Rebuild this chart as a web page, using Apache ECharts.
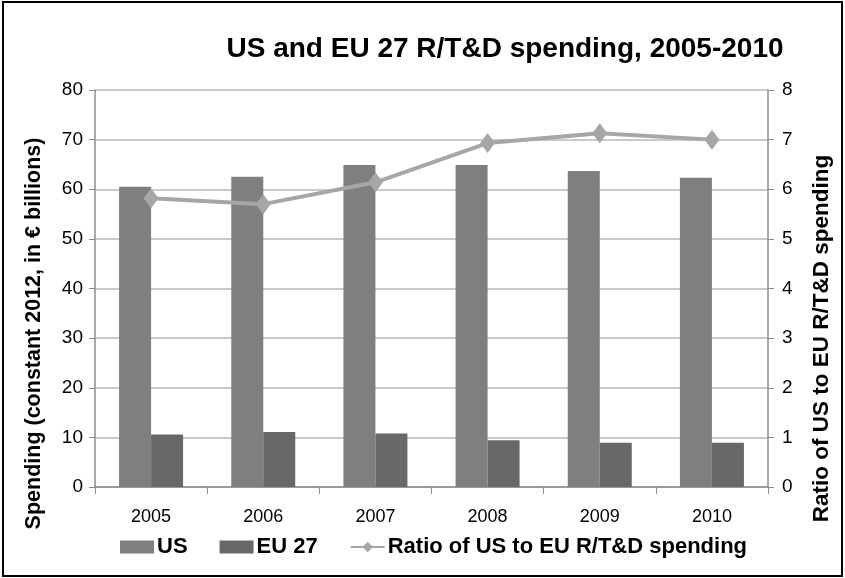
<!DOCTYPE html>
<html><head><meta charset="utf-8">
<script src="https://cdn.jsdelivr.net/npm/echarts@6/dist/echarts.min.js"></script>
<style>html,body{margin:0;padding:0;background:#fff}#c{width:845px;height:578px}</style>
</head><body><div id="c"></div>
<script>
const years = ['2005','2006','2007','2008','2009','2010'];
const usSpending = [60.5, 62.5, 64.9, 64.9, 63.7, 62.3];
const eu27Spending = [10.6, 11.1, 10.8, 9.4, 8.9, 8.9];
const ratioUsEu = [5.82, 5.70, 6.14, 6.93, 7.13, 7.00];
const leftTicks = {min: 0, max: 80, interval: 10};
const rightTicks = {min: 0, max: 8, interval: 1};

const FONT = "'Liberation Sans', Arial, sans-serif";
const chart = echarts.init(document.getElementById('c'), null, {renderer: 'canvas'});
chart.setOption({
  animation: false,
  backgroundColor: '#fff',
  textStyle: {fontFamily: FONT},
  title: {
    text: 'US and EU 27 R/T&D spending, 2005-2010',
    left: 500, top: 30, textAlign: 'center',
    textStyle: {fontFamily: FONT, fontWeight: 'bold', fontSize: 28, color: '#000'}
  },
  graphic: [{
    type: 'rect', shape: {x: 3, y: 2, width: 839, height: 574},
    style: {fill: 'none', stroke: '#000', lineWidth: 2}, silent: true, z: -1
  }],
  legend: {
    left: 115, top: 531, itemGap: 32,
    itemWidth: 34, itemHeight: 13,
    textStyle: {fontFamily: FONT, fontWeight: 'bold', fontSize: 22, color: '#000', padding: [0,0,0,-2]},
    data: [
      {name: 'US', icon: 'rect'},
      {name: 'EU 27', icon: 'rect'},
      {name: 'Ratio of US to EU R/T&D spending'}
    ]
  },
  grid: {left: 95, right: 77, top: 90, bottom: 91, containLabel: false},
  xAxis: {
    type: 'category', data: years,
    axisLine: {lineStyle: {color: '#8c8c8c', width: 1.5}},
    axisTick: {show: true, length: 7, alignWithLabel: false, lineStyle: {color: '#8c8c8c'}},
    axisLabel: {fontFamily: FONT, fontSize: 18, color: '#000', margin: 21}
  },
  yAxis: [{
    type: 'value', min: leftTicks.min, max: leftTicks.max, interval: leftTicks.interval,
    name: 'Spending (constant 2012, in € billions)',
    nameLocation: 'middle', nameGap: 50, nameRotate: 90,
    nameTextStyle: {fontFamily: FONT, fontWeight: 'bold', fontSize: 21.5, color: '#000', padding: [0, 90, 0, 0]},
    axisLine: {show: true, lineStyle: {color: '#8c8c8c', width: 1.5}},
    axisTick: {show: true, length: 6, lineStyle: {color: '#8c8c8c'}},
    axisLabel: {fontFamily: FONT, fontSize: 19, color: '#000', margin: 12},
    splitLine: {lineStyle: {color: '#b8b8b8', width: 1.5}}
  }, {
    type: 'value', min: rightTicks.min, max: rightTicks.max, interval: rightTicks.interval,
    position: 'right',
    name: 'Ratio of US to EU R/T&D spending',
    nameLocation: 'middle', nameGap: 42, nameRotate: 90,
    nameTextStyle: {fontFamily: FONT, fontWeight: 'bold', fontSize: 22.5, color: '#000', padding: [0, 100, 0, 0]},
    axisLine: {show: true, lineStyle: {color: '#8c8c8c', width: 1.5}},
    axisTick: {show: true, length: 6, lineStyle: {color: '#8c8c8c'}},
    axisLabel: {fontFamily: FONT, fontSize: 19, color: '#000', margin: 14},
    splitLine: {show: false}
  }],
  series: [{
    name: 'US', type: 'bar', data: usSpending, barWidth: 32, barGap: '0%',
    itemStyle: {color: '#7f7f7f'}
  }, {
    name: 'EU 27', type: 'bar', data: eu27Spending, barWidth: 32, barGap: '0%',
    itemStyle: {color: '#686868'}
  }, {
    name: 'Ratio of US to EU R/T&D spending', type: 'line', yAxisIndex: 1,
    data: ratioUsEu, symbol: 'diamond', symbolSize: [15, 20],
    lineStyle: {color: '#a6a6a6', width: 4},
    itemStyle: {color: '#a6a6a6'}
  }]
});
</script></body></html>
